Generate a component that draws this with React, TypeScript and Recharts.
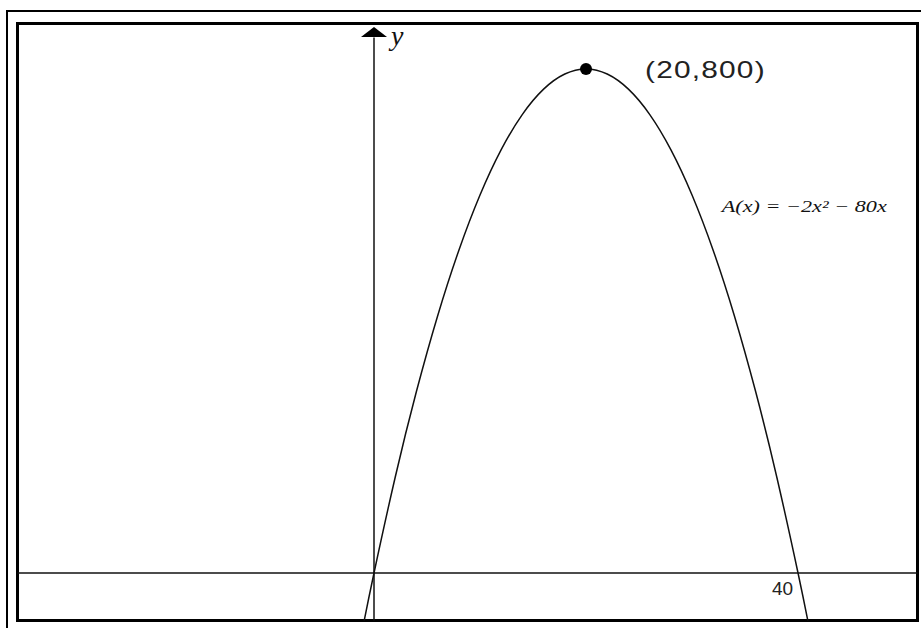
import { LineChart, Line, XAxis, YAxis, ReferenceLine, ReferenceDot } from 'recharts';

const xs = [-1, 0, 2, 4, 6, 8, 10, 12, 14, 16, 18, 20, 22, 24, 26, 28, 30, 32, 34, 36, 38, 40, 41];
const areas = [-82, 0, 152, 288, 408, 512, 600, 672, 728, 768, 792, 800, 792, 768, 728, 672, 600, 512, 408, 288, 152, 0, -82];

const vertex = { x: 20, y: 800 };
const vertexLabel = '(20,800)';
const rootLabel = '40';
const formula = 'A(x) = \u22122x\u00b2 \u2212 80x';

const data = xs.map((x, i) => ({ x, y: areas[i] }));

const xDomain = [-33.63, 51.27];
const yDomain = [-75.4, 872.2];

export default function App() {
  return (
    <div style={{ position: 'fixed', left: 0, top: 0, width: 921, height: 628, background: '#fff' }}>
      {/* outer thin frame */}
      <div style={{ position: 'absolute', left: 6, top: 10, width: 915, height: 618, borderLeft: '2px solid #000', borderTop: '2px solid #000', boxSizing: 'border-box' }} />
      {/* inner thick frame */}
      <div style={{ position: 'absolute', left: 16, top: 22, width: 903, height: 600, border: '3px solid #000', boxSizing: 'border-box' }} />
      <div style={{ position: 'absolute', left: 0, top: 0 }}>
        <LineChart width={921} height={628} data={data} margin={{ top: 23.5, right: 3.5, bottom: 7.5, left: 17.5 }}>
          <XAxis type="number" dataKey="x" domain={xDomain} allowDataOverflow hide />
          <YAxis type="number" domain={yDomain} allowDataOverflow hide />
          <ReferenceLine y={0} stroke="#111" strokeWidth={1.5} />
          <ReferenceLine segment={[{ x: 0, y: -75.4 }, { x: 0, y: 850 }]} stroke="#111" strokeWidth={1.5} />
          <Line
            type="natural"
            dataKey="y"
            stroke="#111"
            strokeWidth={1.5}
            dot={false}
            isAnimationActive={false}
          />
          <ReferenceDot
            x={0}
            y={866.5}
            r={0}
            shape={(p: any) => (
              <g>
                <polygon points={`${p.cx},${p.cy} ${p.cx - 13},${p.cy + 10} ${p.cx + 13},${p.cy + 10}`} fill="#000" />
                <text x={p.cx + 17} y={p.cy + 18} fontFamily="Liberation Serif" fontStyle="italic" fontSize={28} fill="#111">y</text>
              </g>
            )}
          />
          <ReferenceDot
            x={vertex.x}
            y={vertex.y}
            r={6}
            shape={(p: any) => (
              <g>
                <circle cx={p.cx} cy={p.cy} r={6} fill="#000" />
                <text
                  transform={`translate(${p.cx + 59},${p.cy + 9}) scale(1.3,1)`}
                  fontFamily="Liberation Sans"
                  fontSize={23}
                  fill="#222"
                  textLength={92}
                  lengthAdjust="spacing"
                >
                  {vertexLabel}
                </text>
              </g>
            )}
          />
          <ReferenceDot
            x={40}
            y={0}
            r={0}
            shape={(p: any) => (
              <text x={p.cx - 5} y={p.cy + 22} textAnchor="end" fontFamily="Liberation Sans" fontSize={19} fill="#222">{rootLabel}</text>
            )}
          />
          <ReferenceDot
            x={32.8}
            y={581}
            r={0}
            shape={(p: any) => (
              <text
                transform={`translate(${p.cx},${p.cy + 5}) scale(1.3,1)`}
                fontFamily="Liberation Serif"
                fontStyle="italic"
                fontSize={16}
                fill="#111"
                textLength={127}
                lengthAdjust="spacingAndGlyphs"
              >
                {formula}
              </text>
            )}
          />
        </LineChart>
      </div>
    </div>
  );
}
